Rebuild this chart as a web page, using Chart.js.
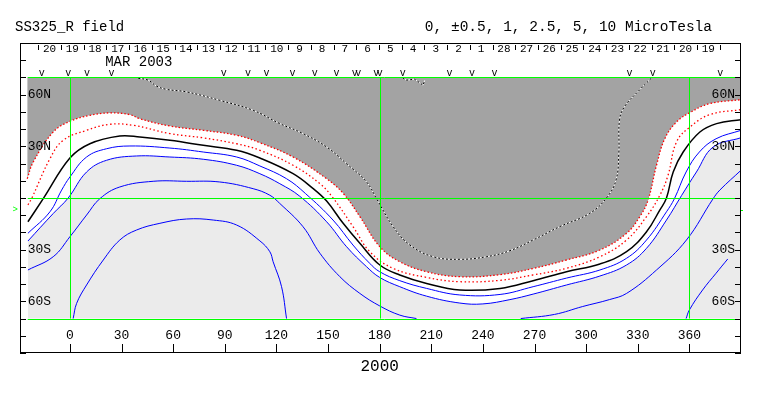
<!DOCTYPE html>
<html lang="en">
<head>
  <meta charset="UTF-8" />
  <title>SS325_R field</title>
  <script src="https://cdn.jsdelivr.net/npm/chart.js"></script>
  <style>
    html, body { margin: 0; padding: 0; background: #fff; }
  </style>
</head>
<body>
  <canvas id="ssChart" width="763" height="396"></canvas>

  <script>
    // --- labels / ticks ---
    const rotation = '2000';
    const monthLabel = 'MAR 2003';
    const leftTitle = 'SS325_R field';
    const rightTitle = '0, \u00b10.5, 1, 2.5, 5, 10 MicroTesla';
    const lonTicks = [0, 30, 60, 90, 120, 150, 180, 210, 240, 270, 300, 330, 360];
    const latTicks = [-90, -80, -70, -60, -50, -40, -30, -20, -10, 0, 10, 20, 30, 40, 50, 60, 70, 80, 90];
    const latLabelValues = [60, 30, -30, -60];
    const latLabels = ['60N', '30N', '30S', '60S'];
    const greenLon = [0, 180, 360];
    const greenLat = [70, 0, -70];
    const dataLonMin = -24.5;

    // days of the rotation (time runs right to left)
    const days = [20, 19, 18, 17, 16, 15, 14, 13, 12, 11, 10, 9, 8, 7, 6, 5, 4, 3, 2, 1, 28, 27, 26, 25, 24, 23, 22, 21, 20, 19];
    const dayStartLon = -18.4;
    const degPerDay = 13.2;
    // observation markers ("v")
    const obsLon = [-16.4, -1, 10, 24.2, 89.4, 103.5, 114.2, 129.3, 142.3, 155, 165.5, 167.5, 178, 180, 193.5, 220.6, 233.7, 246.8, 325.2, 338.7, 378];

    // --- contours (longitude, latitude) ---
    // +1 : edge of the dark region (red dotted)
    const r1Lon = [-24.8, -21.3, -9.7, 0, 11.6, 23.2, 34.9, 40.7, 58.1, 77.5, 96.9, 110.4, 129.7, 149.2, 158.8, 168.5, 180.1, 191.7, 207.3, 226.6, 250, 269.2, 288.6, 308, 323.5, 331.2, 336, 340.9, 345.7, 352.5, 360.3, 371.9, 390];
    const r1Lat = [11.2, 20.9, 38.3, 44.5, 48, 49.4, 48.4, 46, 41.8, 39.3, 36.4, 32.1, 23.8, 11.2, 2.7, -10.8, -28.3, -37, -42.8, -45.7, -44.5, -40.9, -36, -30.2, -20.5, -10.8, -1.2, 19, 34.4, 44.1, 49.6, 54.8, 57.1];
    // +0.5 (red dotted)
    const r2Lon = [-24.4, -22.3, -11.6, -3.9, 9.7, 23.2, 36.8, 58.1, 77.5, 96.9, 110.4, 129.7, 145.3, 152.5, 164.6, 174.3, 187.9, 207.3, 226.6, 250, 269.2, 288.6, 308, 323.5, 335.1, 342.8, 347.6, 352.5, 360.3, 371.9, 390];
    const r2Lat = [-4, -0.4, 22.8, 33.5, 39.3, 42.8, 42.2, 37.4, 34.9, 31.5, 27.7, 19, 8.3, 0.6, -16.7, -31.2, -40.9, -46.1, -48.6, -47.8, -44.7, -40.8, -34.1, -24.4, -10.8, 1.5, 13.2, 32.5, 41.2, 48.4, 51.3];
    // 0 : neutral line (black)
    const kLon = [-24.4, -15.5, 0, 11.6, 29, 40.7, 58.1, 77.5, 96.9, 110.4, 129.7, 141.4, 149.2, 158.8, 168.5, 180.1, 191.7, 207.3, 226.6, 250, 269.2, 288.6, 308, 323.5, 335.1, 342.8, 346.7, 350.6, 356.4, 366.1, 375.8, 390];
    const kLat = [-13.8, -0.4, 23.2, 31.5, 36, 35.4, 33.5, 30.6, 27.7, 23.2, 14.1, 5.4, -1.8, -14.7, -26.3, -38.9, -44.7, -49.6, -53.4, -52.5, -48, -42.8, -38.3, -31.2, -19.6, -7, 0, 15.1, 26.7, 38.3, 43.2, 45.5];
    // -0.5 (blue)
    const b1Lon = [-24.4, -11.6, -4.8, 0, 9.7, 21.3, 34.9, 58.1, 77.5, 96.9, 110.4, 125.9, 137, 152.9, 164.5, 174.2, 180, 191.7, 207.3, 226.6, 250, 269.2, 288.6, 308, 323.5, 335.1, 346.7, 351.3, 358.1, 365.8, 375.5, 390];
    const b1Lat = [-20.5, -8, 4.6, 12.2, 23.8, 28.6, 30.2, 29, 26.7, 23.8, 18.6, 11.2, 2.5, -12.8, -27.3, -37.9, -42.8, -48, -52.5, -56.3, -56, -51.5, -46.5, -41.8, -35, -24.4, -8, -0.4, 15.1, 26.7, 34.4, 39.3];
    // -1 : edge of the light region (blue)
    const b2Lon = [-24.4, -9.7, -1, 9.7, 21.3, 38.7, 58.1, 77.5, 96.9, 110.4, 122, 133.6, 149.2, 160.8, 172.4, 180, 191.7, 207.3, 226.6, 240, 255.7, 269.2, 288.6, 308, 323.5, 335.1, 346.7, 355.5, 364.1, 373.8, 390];
    const b2Lat = [-25, -9, 0, 15.1, 21.9, 24.4, 23.8, 22.5, 19, 14.1, 8.3, 1, -13.8, -28.3, -39.9, -46.1, -51.5, -57, -61, -61.5, -59, -55.8, -50.5, -45.3, -38.9, -29.2, -12.8, 1.5, 15.1, 29.6, 35];
    // -2.5 (blue), two pieces
    const b3aLon = [-24.4, -9.7, 0, 9.7, 17.4, 29, 48.4, 67.8, 87.1, 106.5, 116.2, 121.9, 135.5, 145.3, 156.9, 168.5, 180.1, 191.7, 201.4];
    const b3aLat = [-41.8, -34.1, -22.5, -9.9, -0.4, 6.4, 9.7, 9.7, 9.3, 5.4, 1.6, -3.1, -16.7, -32.1, -45.7, -55.4, -62.7, -68, -70];
    const b3bLon = [262, 281.6, 298, 313.5, 323.5, 340.9, 358.3, 373.8, 377.7, 390];
    const b3bLat = [-70, -67.6, -63, -59, -55.4, -41.8, -24.4, -0.4, 4.6, 16.1];
    // -5 (blue), two pieces
    const b4aLon = [1.9, 3.9, 9.7, 19.4, 29, 38.7, 52.3, 67.8, 83.3, 96.9, 110.4, 116.2, 118.1, 123, 125.9];
    const b4aLat = [-70, -61.2, -50.5, -36, -24.4, -18.6, -14.7, -12.2, -12.8, -15.7, -24.9, -31.2, -37, -51.5, -70];
    const b4bLon = [358.1, 360, 367.7, 375.5, 382.3];
    const b4bLat = [-70, -65, -53.4, -43.7, -35.4];
    // +2.5 inside the dark region (black/white dotted)
    const wLon = [39.7, 45.5, 50.3, 56.1, 67.8, 87.1, 106.5, 122, 135.5, 149.2, 160.8, 172.4, 178.2, 187.9, 197.6, 211.1, 226.6, 242.1, 255.7, 269.2, 284.5, 302.1, 311.8, 317.4, 319, 319.4, 322.3, 331, 337.8];
    const wLat = [69.5, 68.4, 65, 63.1, 61.6, 56.7, 50.9, 43.2, 37.4, 29.6, 19.9, 9.3, -0.4, -16.7, -27.3, -34.1, -35.6, -34.1, -30.6, -24.4, -16.7, -8.9, 0, 10.5, 26, 45.3, 53, 62.7, 69.5];
    const w2Lon = [193.5, 195.5, 200.3, 205.2, 206.2];
    const w2Lat = [69.7, 68.4, 69, 65.5, 68.4];

    const pts = (lons, lats) => lons.map((v, i) => ({ x: v, y: lats[i] }));

    const DARK = '#a3a3a3';
    const LIGHT = '#ebebeb';
    const GREEN = '#00ff00';
    const MONO = '"Liberation Mono", "DejaVu Sans Mono", monospace';

    // frame, ticks, labels and the green reference lines
    const framePlugin = {
      id: 'frame',
      afterDatasetsDraw(chart) {
        const { ctx, chartArea: a, scales: { x, y } } = chart;
        ctx.save();
        ctx.strokeStyle = GREEN;
        ctx.lineWidth = 1;
        ctx.beginPath();
        greenLat.forEach(v => {
          const py = Math.round(y.getPixelForValue(v)) + 0.5;
          ctx.moveTo(x.getPixelForValue(dataLonMin), py);
          ctx.lineTo(a.right, py);
        });
        greenLon.forEach(v => {
          const px = Math.round(x.getPixelForValue(v)) + 0.5;
          ctx.moveTo(px, y.getPixelForValue(70));
          ctx.lineTo(px, y.getPixelForValue(-70));
        });
        ctx.stroke();
        ctx.restore();
      },
      afterDraw(chart) {
        const { ctx, chartArea: a, scales: { x, y } } = chart;
        ctx.save();
        ctx.strokeStyle = '#000';
        ctx.fillStyle = '#000';
        ctx.lineWidth = 1;

        // box
        ctx.strokeRect(a.left + 0.5, a.top + 0.5, a.right - a.left - 1, a.bottom - a.top - 1);

        // latitude ticks, both sides, pointing in
        ctx.beginPath();
        latTicks.forEach(v => {
          const py = Math.round(y.getPixelForValue(v)) + 0.5;
          ctx.moveTo(a.left, py); ctx.lineTo(a.left + 6, py);
          ctx.moveTo(a.right - 6, py); ctx.lineTo(a.right, py);
        });
        // longitude ticks at the bottom
        lonTicks.forEach(v => {
          const px = Math.round(x.getPixelForValue(v)) + 0.5;
          ctx.moveTo(px, a.bottom - 9); ctx.lineTo(px, a.bottom);
        });
        // day boundaries at the top
        for (let i = 0; i <= days.length; i++) {
          const px = Math.round(x.getPixelForValue(dayStartLon + i * degPerDay)) + 0.5;
          ctx.moveTo(px, a.top + 2); ctx.lineTo(px, a.top + 7);
        }
        ctx.stroke();

        // longitude labels
        ctx.font = '13px ' + MONO;
        ctx.textAlign = 'center';
        ctx.textBaseline = 'middle';
        lonTicks.forEach(v => ctx.fillText(String(v), x.getPixelForValue(v), y.getPixelForValue(-80)));

        // latitude labels inside the map
        latLabelValues.forEach((v, i) => {
          const py = y.getPixelForValue(v);
          ctx.textAlign = 'left';
          ctx.fillText(latLabels[i], x.getPixelForValue(dataLonMin), py);
          ctx.textAlign = 'right';
          ctx.fillText(latLabels[i], a.right - 6, py);
        });

        // day numbers
        ctx.font = '11px ' + MONO;
        ctx.textAlign = 'center';
        days.forEach((d, i) => {
          ctx.fillText(String(d), x.getPixelForValue(dayStartLon + (i + 0.5) * degPerDay), a.top + 6);
        });

        // month
        ctx.font = '14px ' + MONO;
        ctx.fillText(monthLabel, x.getPixelForValue(40), a.top + 19);

        // observation markers
        ctx.font = '10px ' + MONO;
        ctx.textBaseline = 'bottom';
        obsLon.forEach(v => ctx.fillText('v', x.getPixelForValue(v), y.getPixelForValue(70) + 1));

        // titles
        ctx.textBaseline = 'middle';
        ctx.font = '14px ' + MONO;
        ctx.textAlign = 'left';
        ctx.fillText(leftTitle, 15, 27);
        ctx.font = '14.5px ' + MONO;
        ctx.textAlign = 'right';
        ctx.fillText(rightTitle, 712, 27);

        // rotation number
        ctx.font = '16px ' + MONO;
        ctx.textAlign = 'center';
        ctx.fillText(rotation, x.getPixelForValue(180), a.bottom + 14);

        // B0 marker
        ctx.fillStyle = GREEN;
        ctx.font = '9px ' + MONO;
        ctx.textAlign = 'right';
        ctx.fillText('>', a.left - 2, y.getPixelForValue(-7));
        ctx.strokeStyle = GREEN;
        ctx.beginPath();
        const pyB = Math.round(y.getPixelForValue(-7)) + 0.5;
        ctx.moveTo(a.right, pyB); ctx.lineTo(a.right + 2, pyB);
        ctx.stroke();
        ctx.restore();
      }
    };

    const line = (data, color, width, extra) => Object.assign({
      data: data,
      borderColor: color,
      borderWidth: width,
      pointRadius: 0,
      fill: false,
      tension: 0.4
    }, extra || {});

    const ctx = document.getElementById('ssChart').getContext('2d');
    new Chart(ctx, {
      type: 'line',
      data: {
        datasets: [
          line(pts(kLon, kLat), '#000', 1.5),
          line(pts(r1Lon, r1Lat), '#ff0000', 1.3, { borderDash: [1.5, 2], fill: { value: 70 }, backgroundColor: DARK }),
          line(pts(r2Lon, r2Lat), '#ff0000', 1.3, { borderDash: [1.5, 2.5] }),
          line(pts(b1Lon, b1Lat), '#0000ff', 1),
          line(pts(b2Lon, b2Lat), '#0000ff', 1, { fill: { value: -70 }, backgroundColor: LIGHT }),
          line(pts(b3aLon, b3aLat), '#0000ff', 1),
          line(pts(b3bLon, b3bLat), '#0000ff', 1),
          line(pts(b4aLon, b4aLat), '#0000ff', 1),
          line(pts(b4bLon, b4bLat), '#0000ff', 1),
          line(pts(wLon, wLat), '#000', 1, { borderDash: [2, 2] }),
          line(pts(wLon, wLat), '#fff', 1),
          line(pts(w2Lon, w2Lat), '#000', 1, { borderDash: [2, 2], tension: 0 }),
          line(pts(w2Lon, w2Lat), '#fff', 1, { tension: 0 })
        ]
      },
      options: {
        responsive: false,
        animation: false,
        devicePixelRatio: 1,
        layout: { padding: { left: 20, right: 22, top: 43, bottom: 43 } },
        scales: {
          x: { type: 'linear', min: -29, max: 390, display: false },
          y: { type: 'linear', min: -90, max: 90, display: false }
        },
        plugins: {
          legend: { display: false },
          tooltip: { enabled: false },
          filler: { drawTime: 'beforeDatasetsDraw' }
        }
      },
      plugins: [framePlugin]
    });
  </script>
</body>
</html>
